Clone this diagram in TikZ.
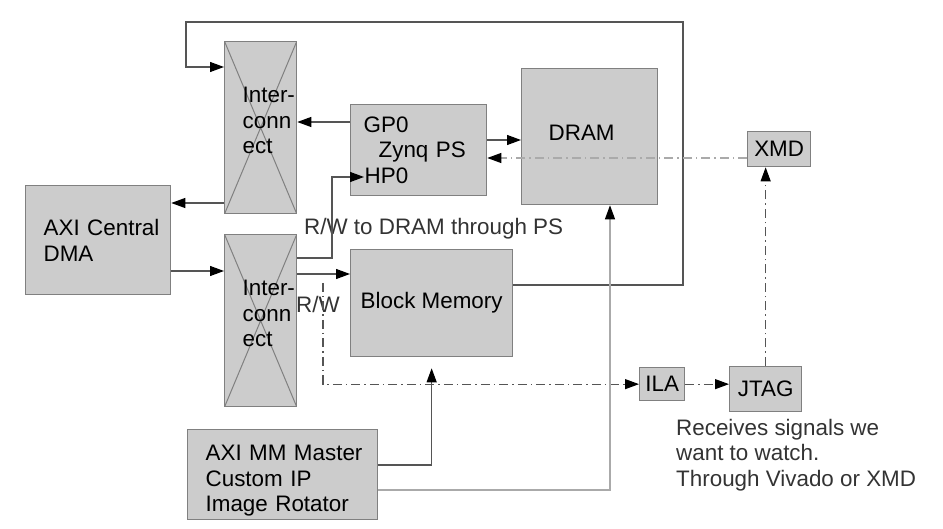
\documentclass[tikz,border=0pt]{standalone}
\usepackage{fontspec}
\setmainfont{Liberation Sans}
\usetikzlibrary{arrows.meta,calc}

\definecolor{boxfill}{HTML}{CCCCCC}
\definecolor{boxline}{HTML}{808080}
\definecolor{wire}{HTML}{555555}
\definecolor{paleline}{HTML}{AAAAAA}

\begin{document}
\begin{tikzpicture}[x=1pt, y=-1pt,
	block/.style={rectangle, draw=boxline, fill=boxfill, line width=1.3pt, anchor=north west,
		inner sep=0pt, align=left, font=\fontsize{22.4}{25.5}\selectfont,
		execute at begin node={\hyphenpenalty=10000\exhyphenpenalty=10000\hbadness=10000\hfuzz=100pt}},
	xbox/.style={block, path picture={
		\draw[boxline, line width=1pt] (path picture bounding box.north west) -- (path picture bounding box.south east)
			(path picture bounding box.north east) -- (path picture bounding box.south west);}},
	link/.style={draw=wire, line width=1.1pt, -{Triangle[length=14pt, width=10pt, color=black]}},
	palelink/.style={link, draw=paleline},
	dashdot/.style={link, dash pattern=on 9pt off 4pt on 1.5pt off 4pt},
	lbl/.style={inner sep=0pt, text=black!80, align=left, font=\fontsize{22.4}{25.5}\selectfont}]

	\useasboundingbox (0,0) rectangle (943,529);

	% blocks
	\node (icA) [xbox, minimum width=72pt, minimum height=172pt, text width=36pt] at (224,41)
		{Inter-\\conn\\ect\rule[-14pt]{0pt}{14pt}};
	\node (icB) [xbox, minimum width=72pt, minimum height=172pt, text width=36pt] at (224,234)
		{Inter-\\conn\\ect\rule[-14pt]{0pt}{14pt}};
	\node (dma) [block, minimum width=145pt, minimum height=109pt, text width=109pt] at (25,185) {AXI~Central\\DMA};
	\node (zynq) [block, minimum width=136pt, minimum height=91pt, text width=110pt] at (350,104)
		{GP0\\\hspace*{15pt}Zynq~PS\\\hspace*{1pt}HP0};
	\node (dram) [block, minimum width=136pt, minimum height=136pt, text width=82pt, text depth=8pt] at (521,68) {DRAM};
	\node (bram) [block, minimum width=162pt, minimum height=107pt, align=center] at (350,249) {Block Memory};
	\node (xmd) [block, minimum width=63pt, minimum height=35pt, align=center] at (747,131) {XMD};
	\node (ila) [block, minimum width=45pt, minimum height=33pt, align=center] at (639,367) {ILA};
	\node (jtag) [block, minimum width=72pt, minimum height=45pt, align=center] at (729,366) {JTAG};
	\node (rot) [block, minimum width=190pt, minimum height=90pt, text width=154pt] at (187,429)
		{\rule{0pt}{28pt}AXI~MM~Master\\Custom~IP\\Image~Rotator};

	% labels
	\node (rwps) [lbl, anchor=west] at (304,229) {R/W to DRAM through PS};
	\node (rw) [lbl, anchor=west] at (296,304) {R/W};
	\node (note) [lbl, anchor=north west] at (676,419) {Receives signals we\\want to watch.\\Through Vivado or XMD};

	\coordinate (hp0) at ($(zynq.west |- 0,177)+(14,0)$);
	\coordinate (tap) at (323,283);

	% connections
	\draw[link] (bram.east |- 0,285) -| (683,22) -| (186,67) -- (icA.west |- 0,67);
	\draw[link] (zynq.west |- 0,122) -- (icA.east |- 0,122);
	\draw[link] (icA.west |- 0,203) -- (dma.east |- 0,203);
	\draw[link] (dma.east |- 0,271) -- (icB.west |- 0,271);
	\draw[link] (icB.east |- 0,258) -| (332,177) -- (hp0);
	\draw[link] (icB.east |- 0,274) -- (bram.west |- 0,274);
	\draw[link] (zynq.east |- 0,140) -- (dram.west |- 0,140);
	\draw[dashdot, draw=paleline] (xmd.west |- 0,158) -- (zynq.east |- 0,158);
	\draw[dashdot] (jtag.north) -- (jtag.north |- xmd.south);
	\draw[dashdot] (ila.east) -- (jtag.west |- ila.east);
	\draw[dashdot] (tap) |- (ila.west);
	\draw[link] (rot.east |- 0,465) -| ([yshift=-11pt]bram.south);
	\draw[palelink] (rot.east |- 0,490) -| (dram.south -| 610,0);
\end{tikzpicture}
\end{document}
